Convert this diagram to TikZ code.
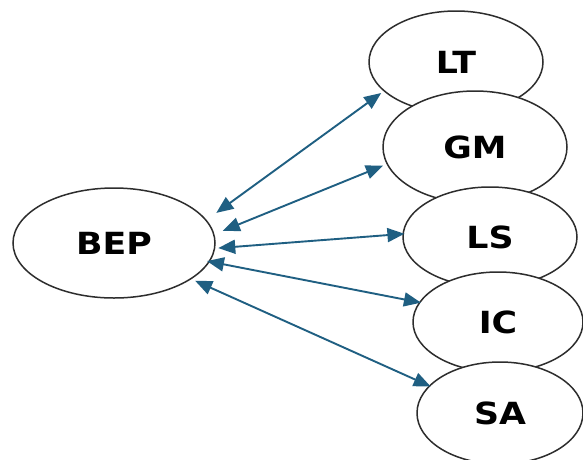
\documentclass[tikz,border=0pt]{standalone}
\usepackage{fontspec}
\setmainfont{DejaVu Sans}
\usetikzlibrary{shapes.geometric,arrows.meta}
\definecolor{linkblue}{RGB}{31,95,130}
\definecolor{rimgray}{RGB}{45,45,45}
\newcommand{\wide}[1]{\scalebox{1.14}[1]{#1}}
\begin{document}
\begin{tikzpicture}[x=1pt,y=-1pt,
  bubble/.style={ellipse,draw=rimgray,line width=1.5pt,fill=white,inner sep=0pt,
    font=\fontsize{30.5}{30.5}\selectfont\bfseries},
  link/.style={draw=linkblue,line width=1.9pt,
    {Triangle[length=17pt,width=14pt]}-{Triangle[length=17pt,width=14pt]}}]
  \fill[white] (0,0) rectangle (583,459);
  \useasboundingbox (0,0) rectangle (583,459);
  % hub on the left
  \node[bubble,minimum width=202pt,minimum height=110pt] (BEP) at (114,243) {\wide{BEP}};
  % stacked bubbles on the right, each overlapping the one above
  \node[bubble,minimum width=174pt,minimum height=102pt] (LT) at (456,62)  {\wide{LT}};
  \node[bubble,minimum width=184pt,minimum height=112pt] (GM) at (475,147) {\wide{GM}};
  \node[bubble,minimum width=174pt,minimum height=100pt] (LS) at (490,237) {\wide{LS}};
  \node[bubble,minimum width=170pt,minimum height=100pt] (IC) at (498,322) {\wide{IC}};
  \node[bubble,minimum width=166pt,minimum height=102pt] (SA) at (500,413) {\wide{SA}};
  % two-way links
  \draw[link,shorten <=12pt,shorten >=3pt]  (BEP.14.8)  -- (LT.202);
  \draw[link,shorten <=9pt,shorten >=4pt]   (BEP.5.6)   -- (GM.191.3);
  \draw[link,shorten <=3pt,shorten >=-2pt]  (BEP.357.8) -- (LS.178);
  \draw[link,shorten <=-3pt,shorten >=-2pt] (BEP.349.6) -- (IC.166);
  \draw[link,shorten <=4pt,shorten >=-2pt]  (BEP.335.4) -- (SA.159);
\end{tikzpicture}
\end{document}
